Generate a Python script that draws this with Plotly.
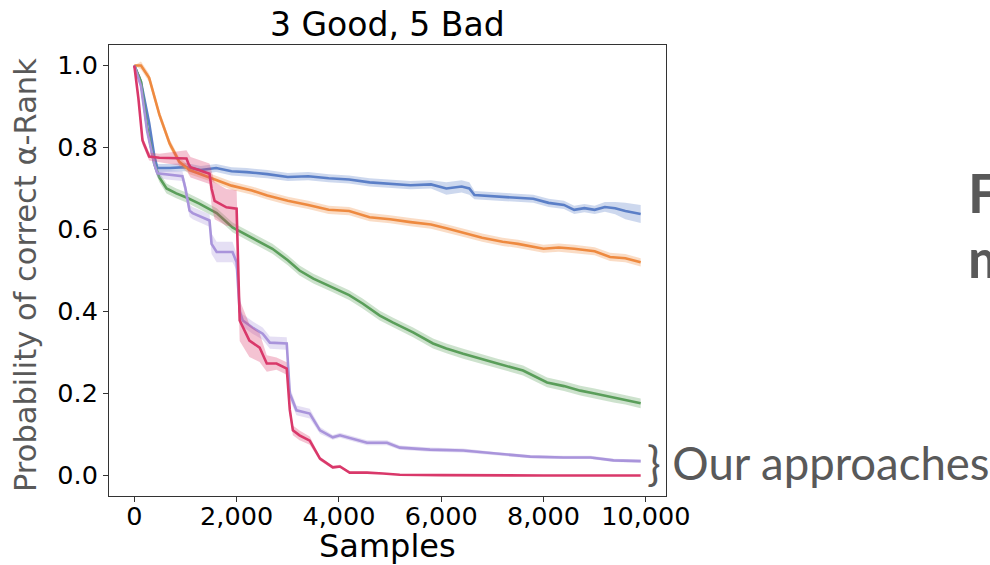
import plotly.graph_objects as go

# ---- data ----
x_blue = [0, 130, 290, 390, 450, 700, 1000, 1300, 1600, 1900, 2200, 2600, 3000, 3400, 3800, 4200, 4600,
          5000, 5400, 5800, 6100, 6400, 6550, 6650, 7000, 7400, 7800, 8100, 8400, 8600, 8800, 9000, 9200,
          9400, 9600, 9900]
y_blue = [1.0, 0.96, 0.86, 0.78, 0.75, 0.75, 0.752, 0.745, 0.75, 0.742, 0.74, 0.735, 0.728, 0.73, 0.725,
          0.722, 0.715, 0.712, 0.708, 0.71, 0.70, 0.705, 0.70, 0.684, 0.682, 0.678, 0.675, 0.665, 0.66,
          0.648, 0.652, 0.648, 0.655, 0.652, 0.645, 0.638]
e_blue = [0.0, 0.01, 0.01, 0.01, 0.01, 0.01, 0.01, 0.01, 0.01, 0.01, 0.01, 0.01, 0.01, 0.01, 0.01, 0.01,
          0.01, 0.01, 0.01, 0.01, 0.015, 0.015, 0.015, 0.01, 0.01, 0.01, 0.01, 0.01, 0.01, 0.01, 0.01,
          0.01, 0.012, 0.015, 0.02, 0.022]

x_orange = [0, 130, 290, 490, 690, 880, 1080, 1300, 1500, 1900, 2300, 2600, 3000, 3400, 3800, 4200, 4600,
            5000, 5400, 5800, 6100, 6500, 6800, 7200, 7500, 8000, 8300, 8600, 9000, 9300, 9600, 9900]
y_orange = [1.0, 1.0, 0.97, 0.88, 0.81, 0.765, 0.745, 0.735, 0.727, 0.707, 0.695, 0.683, 0.67, 0.66,
            0.648, 0.645, 0.63, 0.625, 0.618, 0.612, 0.603, 0.59, 0.58, 0.57, 0.565, 0.553, 0.556, 0.553,
            0.547, 0.533, 0.53, 0.52]
e_orange = [0.0] + [0.01] * 31

x_green = [0, 130, 250, 390, 490, 630, 820, 1020, 1270, 1610, 1920, 2300, 2700, 3000, 3230, 3500, 3880,
           4200, 4470, 4800, 5060, 5450, 5840, 6100, 6430, 6800, 7100, 7600, 8070, 8400, 8720, 9000, 9370,
           9600, 9900]
y_green = [1.0, 0.96, 0.85, 0.76, 0.727, 0.70, 0.688, 0.678, 0.663, 0.64, 0.605, 0.58, 0.553, 0.525, 0.5,
           0.48, 0.459, 0.44, 0.419, 0.39, 0.373, 0.349, 0.322, 0.31, 0.297, 0.283, 0.273, 0.256, 0.227,
           0.218, 0.207, 0.2, 0.19, 0.185, 0.176]
e_green = [0.0] + [0.012] * 34

x_purple = [0, 130, 250, 390, 450, 630, 940, 1000, 1080, 1140, 1470, 1510, 1610, 1920, 2000, 2060, 2120,
            2310, 2510, 2650, 2980, 3040, 3170, 3430, 3630, 3880, 4020, 4550, 4940, 5190, 5780, 6430,
            7100, 7740, 8390, 8920, 9370, 9900]
y_purple = [1.0, 0.95, 0.84, 0.76, 0.737, 0.734, 0.73, 0.70, 0.646, 0.64, 0.622, 0.565, 0.545, 0.545,
            0.52, 0.40, 0.378, 0.361, 0.346, 0.324, 0.322, 0.20, 0.159, 0.151, 0.11, 0.093, 0.098, 0.08,
            0.08, 0.068, 0.063, 0.061, 0.053, 0.046, 0.044, 0.044, 0.037, 0.035]
e_purple = [0.0, 0.01, 0.01, 0.01, 0.01, 0.012, 0.012, 0.015, 0.015, 0.015, 0.015, 0.025, 0.025, 0.025,
            0.02, 0.02, 0.015, 0.015, 0.015, 0.015, 0.015, 0.015, 0.012, 0.012, 0.008, 0.006, 0.006,
            0.006, 0.006, 0.005, 0.005, 0.005, 0.004, 0.004, 0.004, 0.004, 0.004, 0.004]

x_red = [0, 80, 160, 290, 490, 1020, 1060, 1100, 1470, 1510, 1570, 1800, 2000, 2060, 2250, 2450, 2590,
         2780, 2980, 3040, 3100, 3230, 3430, 3630, 3880, 4020, 4210, 4550, 4860, 5190, 6000, 7000, 8000,
         9000, 9900]
y_red = [1.0, 0.92, 0.817, 0.778, 0.775, 0.773, 0.76, 0.752, 0.736, 0.70, 0.67, 0.654, 0.651, 0.378,
         0.329, 0.312, 0.273, 0.273, 0.261, 0.16, 0.11, 0.098, 0.085, 0.041, 0.02, 0.022, 0.007, 0.007,
         0.005, 0.002, 0.001, 0.0, 0.0, 0.0, 0.0]
e_red = [0.0, 0.01, 0.01, 0.01, 0.01, 0.02, 0.025, 0.025, 0.025, 0.04, 0.045, 0.045, 0.045, 0.05, 0.04,
         0.035, 0.02, 0.015, 0.015, 0.015, 0.012, 0.012, 0.01, 0.005, 0.004, 0.004, 0.002, 0.002, 0.001,
         0.001, 0.0, 0.0, 0.0, 0.0, 0.0]

series = [
    ("blue", x_blue, y_blue, e_blue, "#5B7FC7", "rgba(91,127,199,0.3)"),
    ("orange", x_orange, y_orange, e_orange, "#EE8A40", "rgba(238,138,64,0.3)"),
    ("green", x_green, y_green, e_green, "#5A9E5A", "rgba(90,158,90,0.3)"),
    ("purple", x_purple, y_purple, e_purple, "#A994DB", "rgba(169,148,219,0.3)"),
    ("red", x_red, y_red, e_red, "#D9386A", "rgba(217,56,106,0.3)"),
]

x_ticks = [0, 2000, 4000, 6000, 8000, 10000]
y_ticks = [0.0, 0.2, 0.4, 0.6, 0.8, 1.0]

fig = go.Figure()
for name, xs, ys, es, col, fillc in series:
    upper = [y + e for y, e in zip(ys, es)]
    lower = [y - e for y, e in zip(ys, es)]
    fig.add_trace(go.Scatter(x=xs + xs[::-1], y=upper + lower[::-1], fill="toself",
                             fillcolor=fillc, line=dict(width=0), mode="lines",
                             hoverinfo="skip", showlegend=False))
    fig.add_trace(go.Scatter(x=xs, y=ys, mode="lines", line=dict(color=col, width=2.6),
                             name=name, showlegend=False))

W, H = 990, 565
L, R, T, B = 109, 666, 45, 496          # plot frame in pixels
pw, ph = R - L, B - T


def px_x(px):
    return (px - L) / pw


def px_y(py):
    return (B - py) / ph


font_main = "DejaVu Sans"
fig.update_layout(
    width=W, height=H,
    margin=dict(l=L, r=W - R, t=T, b=H - B, autoexpand=False),
    paper_bgcolor="white", plot_bgcolor="white",
    xaxis=dict(range=[-495, 10395], tickvals=x_ticks, tickformat=",d", automargin=False,
               showgrid=False, zeroline=False, showline=True, mirror=True,
               linecolor="#333", linewidth=1, ticks="outside", ticklen=5, tickcolor="#333",
               ticklabelstandoff=-8,
               tickfont=dict(family=font_main, size=25.5, color="black")),
    yaxis=dict(range=[-0.05, 1.05], tickvals=y_ticks, tickformat=".1f", automargin=False,
               showgrid=False, zeroline=False, showline=True, mirror=True,
               linecolor="#333", linewidth=1, ticks="outside", ticklen=5, tickcolor="#333",
               tickfont=dict(family=font_main, size=25.5, color="black")),
)

# title and axis titles as positioned text
fig.add_annotation(text="3 Good, 5 Bad", xref="paper", yref="paper", x=0.5, y=px_y(25),
                   xanchor="center", yanchor="middle", showarrow=False,
                   font=dict(family=font_main, size=33, color="black"))
fig.add_annotation(text="Samples", xref="paper", yref="paper", x=0.5, y=px_y(546),
                   xanchor="center", yanchor="middle", showarrow=False,
                   font=dict(family=font_main, size=32, color="black"))
fig.add_annotation(text="Probability of correct α-Rank", xref="paper", yref="paper",
                   x=px_x(25), y=px_y(275), xanchor="center", yanchor="middle", textangle=-90,
                   showarrow=False, font=dict(family=font_main, size=30.5, color="#595959"))

fig.add_annotation(text="} Our approaches", xref="paper", yref="paper",
                   x=px_x(645), y=px_y(462), xanchor="left", yanchor="middle",
                   showarrow=False, font=dict(family="Lato", size=45.5, color="#595959"))
fig.add_annotation(text="<b>F</b>", xref="paper", yref="paper",
                   x=px_x(966), y=px_y(192), xanchor="left", yanchor="middle",
                   showarrow=False, font=dict(family="Lato", size=54, color="#595959"))
fig.add_annotation(text="<b>m</b>", xref="paper", yref="paper",
                   x=px_x(966), y=px_y(257), xanchor="left", yanchor="middle",
                   showarrow=False, font=dict(family="Lato", size=54, color="#595959"))

fig.write_html("out.html", config={"displayModeBar": False},
               post_script="document.body.style.margin='0';")
